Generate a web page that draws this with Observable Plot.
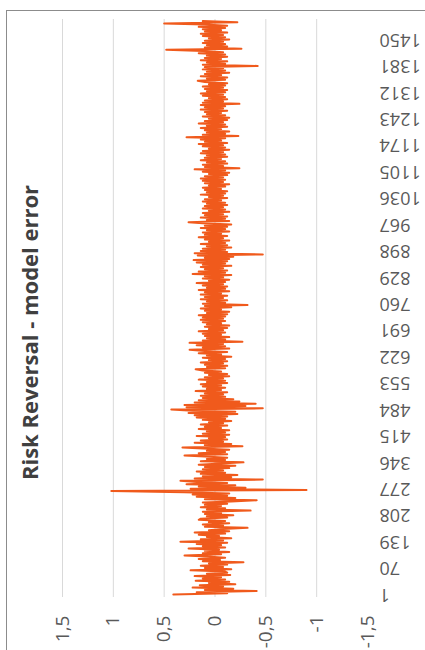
<!DOCTYPE html>
<html><head><meta charset="utf-8">
<script src="https://cdn.jsdelivr.net/npm/d3@7"></script>
<script src="https://cdn.jsdelivr.net/npm/@observablehq/plot@0.6"></script>
<style>
body{margin:0;background:#fff;}
#wrap{position:relative;width:425px;height:650px;overflow:hidden;}
#border{position:absolute;left:6px;top:10px;right:-4px;bottom:-4px;border-top:1.5px solid #8c8c8c;border-left:1.5px solid #8c8c8c;pointer-events:none;}
#wrap svg{position:absolute;left:0;top:0;}
</style></head><body><div id="wrap"><div id="border"></div></div>
<script>
const title = "Risk Reversal - model error";
// one value every 3rd observation (1, 4, 7, ...)
const step = 3;
const errors = [
 0.41,-0.12,0.18,-0.41,0.1,-0.18,0.22,-0.08,0.15,-0.2,0.06,-0.14,0.19,-0.1,0.12,-0.06,0.2,-0.15,0.08,-0.12,
 -0.1,0.24,-0.16,0.1,-0.08,0.14,-0.12,0.06,-0.28,0.12,-0.05,0.16,-0.1,0.08,0.3,-0.06,0.12,-0.14,0.1,-0.04,
 0.26,-0.1,0.12,-0.06,0.18,-0.12,0.34,-0.08,0.14,-0.16,0.08,-0.04,0.16,-0.1,0.2,-0.14,0.06,-0.08,-0.32,0.1,
 -0.08,0.12,-0.14,0.06,-0.1,0.16,0.14,-0.12,0.08,-0.18,0.1,-0.06,0.12,-0.35,0.08,-0.1,0.14,-0.06,0.1,-0.12,
 0.12,-0.16,-0.41,0.1,-0.2,0.18,-0.12,0.22,-0.14,0.3,1.02,-0.9,0.24,-0.3,0.16,-0.2,0.28,-0.12,0.18,0.34,
 -0.47,0.2,-0.16,0.12,-0.22,0.14,-0.1,0.18,-0.08,0.12,-0.14,0.1,-0.2,0.16,-0.06,-0.28,0.14,-0.1,0.08,-0.12,
 0.1,0.3,-0.12,0.16,-0.1,0.08,-0.14,0.12,0.32,-0.27,0.1,-0.16,0.2,-0.08,0.14,-0.12,0.06,-0.1,0.18,-0.14,
 0.12,-0.1,0.08,-0.14,0.16,-0.06,0.1,-0.12,0.14,-0.08,0.06,-0.16,0.12,-0.1,0.18,-0.12,0.2,-0.22,0.26,-0.2,
 0.22,0.43,-0.47,0.28,-0.3,0.3,-0.4,0.2,-0.24,0.16,-0.18,0.12,-0.1,0.14,-0.08,0.1,-0.12,0.19,-0.06,0.08,
 -0.1,0.12,-0.06,0.14,-0.12,0.08,-0.1,0.16,-0.08,0.1,-0.14,0.06,-0.12,0.1,-0.06,0.12,0.19,-0.1,0.08,-0.12,
 0.1,-0.08,0.14,-0.12,0.06,-0.1,0.12,-0.16,0.08,-0.06,0.16,-0.12,0.1,0.25,-0.14,0.12,-0.1,0.18,-0.08,0.25,
 -0.27,0.12,-0.1,0.08,-0.14,0.1,-0.06,0.12,-0.1,0.16,-0.08,0.06,-0.12,0.1,-0.14,0.08,-0.06,0.12,-0.1,0.14,
 -0.08,0.12,-0.1,0.16,-0.12,0.08,-0.14,0.1,-0.06,0.14,-0.16,0.1,-0.32,0.12,-0.1,0.08,-0.12,0.14,-0.08,0.1,
 -0.12,0.14,-0.06,0.1,-0.14,0.16,-0.1,0.08,-0.12,0.12,-0.08,0.18,-0.1,0.06,-0.14,0.12,-0.08,0.1,-0.16,0.22,
 -0.1,0.16,-0.12,0.1,-0.08,0.14,-0.16,0.12,-0.1,0.18,-0.12,0.21,-0.14,0.1,-0.18,0.17,-0.47,0.2,-0.12,0.14,
 -0.1,0.12,-0.16,0.08,-0.12,0.14,-0.1,0.06,-0.14,0.1,-0.08,0.16,-0.12,0.1,-0.06,0.12,-0.14,0.08,-0.1,0.14,
 -0.12,0.1,-0.16,0.12,0.26,-0.14,0.08,-0.1,0.14,-0.12,0.1,-0.08,0.12,-0.14,0.06,-0.1,0.12,-0.08,0.1,-0.12,
 0.08,-0.1,0.12,-0.06,0.1,-0.12,0.06,-0.08,0.14,-0.1,0.08,-0.12,0.1,-0.06,0.12,-0.1,0.06,-0.14,0.1,-0.08,
 0.12,-0.1,0.14,-0.08,0.1,-0.12,0.06,-0.14,0.12,-0.1,0.2,-0.24,0.1,-0.08,0.12,-0.12,0.08,-0.1,0.14,-0.06,
 0.1,-0.12,0.08,-0.1,0.14,-0.08,0.12,-0.14,0.06,-0.1,0.12,-0.08,0.16,-0.12,0.1,-0.06,0.14,-0.1,0.28,-0.23,
 0.12,-0.1,0.08,-0.14,0.1,-0.06,0.14,-0.12,0.08,-0.1,0.16,-0.08,0.1,-0.12,0.06,-0.14,0.12,-0.1,0.08,-0.06,
 0.1,-0.12,0.14,-0.08,0.1,-0.1,0.14,-0.24,0.12,-0.08,0.1,-0.12,0.06,-0.1,0.12,-0.08,0.14,-0.1,0.08,-0.12,
 0.1,-0.08,0.12,-0.1,0.06,-0.12,0.1,0.17,-0.1,0.08,-0.12,0.14,-0.06,0.1,-0.14,0.08,-0.1,0.12,-0.08,0.1,
 -0.42,0.12,-0.1,0.08,-0.12,0.14,-0.06,0.1,-0.12,0.08,-0.1,0.16,-0.08,0.12,0.48,-0.26,0.1,-0.12,0.08,-0.1,
 0.12,-0.08,0.1,-0.14,0.06,-0.1,0.12,-0.08,0.14,-0.12,0.1,-0.06,0.12,-0.1,0.16,-0.12,0.1,0.5,-0.22,0.12
];
const valueTicks = [1.5, 1, 0.5, 0, -0.5, -1, -1.5];
const valueTickLabels = ["1,5", "1", "0,5", "0", "-0,5", "-1", "-1,5"];
const gridValues = [1.5, 1, 0.5, 0, -0.5, -1];
const categoryTicks = [1, 70, 139, 208, 277, 346, 415, 484, 553, 622, 691, 760, 829, 898, 967, 1036, 1105, 1174, 1243, 1312, 1381, 1450];

const data = errors.map((v, i) => ({idx: 1 + i * step, v}));

const chart = Plot.plot({
  width: 425, height: 650,
  marginTop: 19, marginBottom: 53, marginLeft: 62, marginRight: 58,
  x: {domain: [1.5, -1.5], axis: null},
  y: {domain: [1, 1450], range: [594, 39], axis: null},
  style: {fontFamily: "Open Sans", background: "transparent", overflow: "visible"},
  marks: [
    Plot.ruleX(gridValues, {stroke: "#d9d9d9", strokeWidth: 1}),
    Plot.line(data, {x: "v", y: "idx", stroke: "#F05A1C", strokeWidth: 2, strokeLinejoin: "round"}),
    Plot.text(valueTicks, {x: d => d, text: (d, i) => valueTickLabels[i], frameAnchor: "bottom", dy: 18, rotate: -90, textAnchor: "end", lineAnchor: "middle", fontSize: 19, fill: "#595959"}),
    Plot.text(categoryTicks, {y: d => d, text: d => String(d), frameAnchor: "right", dx: 12, rotate: 180, textAnchor: "end", lineAnchor: "middle", fontSize: 18, fill: "#595959"}),
    Plot.text([title], {frameAnchor: "left", dx: -32, dy: 24, rotate: -90, textAnchor: "middle", lineAnchor: "middle", fontSize: 22, fontWeight: "bold", fill: "#404040"})
  ]
});
document.getElementById("wrap").appendChild(chart);
</script>
</body></html>
